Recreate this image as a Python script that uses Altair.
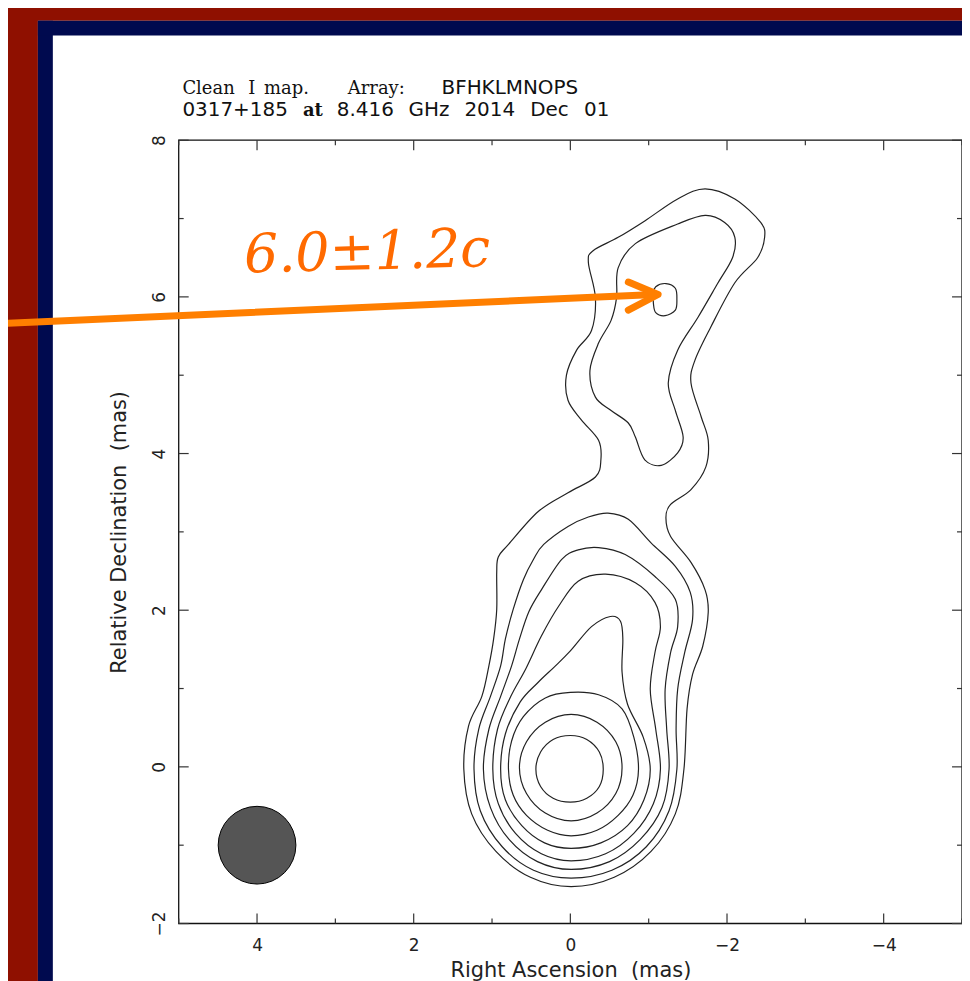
import altair as alt
import pandas as pd

# ---------------- data (mas) ----------------
XLAB = [4, 2, 0, -2, -4]
XMIN = [5, 3, 1, -1, -3, -5]
YLAB = [-2, 0, 2, 4, 6, 8]
YMIN = [-1, 1, 3, 5, 7]

# contour levels, outer -> inner (RA, Dec) in mas
L1 = [(-1.45, -0.03), (-1.34, -0.60), (-1.03, -1.08), (-0.56, -1.41), (-0.01, -1.53),
      (0.51, -1.41), (0.95, -1.08), (1.26, -0.60), (1.36, -0.03), (1.30, 0.52),
      (1.13, 0.90), (1.04, 1.29), (0.98, 1.63), (0.94, 2.01), (0.94, 2.48),
      (0.92, 2.68), (0.79, 2.84), (0.41, 3.26), (0.03, 3.50), (-0.32, 3.70),
      (-0.39, 3.92), (-0.36, 4.17), (-0.14, 4.43), (0.03, 4.68), (0.05, 5.00),
      (-0.08, 5.32), (-0.27, 5.57), (-0.32, 5.99), (-0.23, 6.44), (-0.29, 6.59),
      (-0.61, 6.76), (-0.95, 6.97), (-1.37, 7.25), (-1.72, 7.38), (-2.10, 7.25),
      (-2.43, 6.95), (-2.48, 6.76), (-2.39, 6.50), (-2.10, 6.18), (-1.79, 5.61),
      (-1.59, 5.19), (-1.54, 4.90), (-1.67, 4.47), (-1.76, 4.17), (-1.73, 3.83),
      (-1.54, 3.54), (-1.28, 3.35), (-1.22, 3.18), (-1.28, 2.94), (-1.54, 2.61),
      (-1.72, 2.26), (-1.76, 1.97), (-1.69, 1.54), (-1.56, 1.18), (-1.49, 0.74)]
L2_CORE = [(-1.36, -0.03), (-1.26, -0.56), (-0.97, -1.02), (-0.53, -1.32), (-0.01, -1.42),
           (0.47, -1.32), (0.87, -1.02), (1.15, -0.56), (1.23, -0.03), (1.17, 0.48),
           (1.02, 0.90), (0.89, 1.29), (0.83, 1.63), (0.73, 2.01), (0.60, 2.39),
           (0.47, 2.65), (0.34, 2.84), (0.03, 3.07), (-0.23, 3.19), (-0.48, 3.24),
           (-0.74, 3.16), (-1.03, 2.86), (-1.34, 2.56), (-1.53, 2.23), (-1.56, 1.88),
           (-1.46, 1.46), (-1.37, 0.99), (-1.35, 0.48)]
L2_JET = [(-0.61, 6.37), (-0.83, 6.68), (-1.37, 6.93), (-1.72, 7.04), (-1.97, 6.95),
          (-2.10, 6.76), (-2.07, 6.50), (-1.88, 6.17), (-1.63, 5.74), (-1.37, 5.32),
          (-1.25, 4.90), (-1.34, 4.55), (-1.44, 4.21), (-1.37, 4.01), (-1.16, 3.85),
          (-0.95, 3.92), (-0.83, 4.21), (-0.74, 4.39), (-0.52, 4.55), (-0.32, 4.72),
          (-0.25, 5.06), (-0.36, 5.41), (-0.52, 5.70), (-0.59, 5.99)]
L3_KNOT = [(-1.06, 6.04), (-1.09, 6.13), (-1.22, 6.17), (-1.34, 6.11), (-1.36, 5.97),
           (-1.34, 5.83), (-1.21, 5.76), (-1.09, 5.80), (-1.06, 5.92)]
L3 = [(-1.26, -0.03), (-1.17, -0.52), (-0.89, -0.93), (-0.50, -1.21), (-0.01, -1.31),
      (0.42, -1.21), (0.78, -0.93), (1.02, -0.52), (1.11, -0.03), (1.04, 0.48),
      (0.89, 0.90), (0.75, 1.29), (0.65, 1.63), (0.53, 1.98), (0.37, 2.26),
      (0.11, 2.65), (-0.10, 2.77), (-0.36, 2.80), (-0.70, 2.71), (-1.08, 2.43),
      (-1.34, 2.14), (-1.37, 1.79), (-1.28, 1.46), (-1.21, 0.99), (-1.23, 0.48)]
L4 = [(-1.15, -0.03), (-1.06, -0.47), (-0.81, -0.85), (-0.45, -1.11), (-0.01, -1.20),
      (0.37, -1.11), (0.70, -0.85), (0.92, -0.47), (0.99, -0.03), (0.93, 0.48),
      (0.76, 0.90), (0.57, 1.25), (0.37, 1.67), (0.15, 2.05), (-0.10, 2.37),
      (-0.45, 2.46), (-0.83, 2.35), (-1.08, 2.10), (-1.15, 1.79), (-1.08, 1.46),
      (-1.02, 0.99), (-1.09, 0.48)]
L5 = [(-1.02, -0.03), (-0.94, -0.42), (-0.73, -0.75), (-0.39, -0.97), (-0.01, -1.04),
      (0.33, -0.97), (0.62, -0.75), (0.83, -0.42), (0.89, -0.03), (0.83, 0.42),
      (0.64, 0.83), (0.41, 1.08), (0.20, 1.28), (0.00, 1.48), (-0.27, 1.79),
      (-0.51, 1.92), (-0.64, 1.86), (-0.67, 1.63), (-0.66, 1.21), (-0.73, 0.80),
      (-0.93, 0.38)]
L6 = [(-0.87, -0.03), (-0.80, -0.36), (-0.61, -0.62), (-0.34, -0.81), (-0.01, -0.88),
      (0.29, -0.81), (0.56, -0.62), (0.73, -0.36), (0.79, -0.03), (0.75, 0.33),
      (0.60, 0.64), (0.32, 0.88), (0.00, 0.95), (-0.36, 0.92), (-0.66, 0.74),
      (-0.81, 0.38)]
L7 = [(-0.01, 0.67), (-0.34, 0.57), (-0.58, 0.32), (-0.66, -0.01), (-0.58, -0.34),
      (-0.34, -0.59), (-0.01, -0.69), (0.32, -0.59), (0.56, -0.34), (0.65, -0.01),
      (0.56, 0.32), (0.32, 0.57)]
L8 = [(0.00, 0.40), (-0.21, 0.35), (-0.37, 0.19), (-0.42, -0.03), (-0.37, -0.25),
      (-0.21, -0.40), (0.00, -0.45), (0.22, -0.40), (0.38, -0.25), (0.44, -0.03),
      (0.38, 0.19), (0.22, 0.35)]

BEAM = {"ra": 4.0, "dec": -1.0}
ARROW_SHAFT = [(7.5, 5.65), (-1.08, 6.03)]
ARROW_HEAD = [(-0.74, 6.19), (-1.12, 6.03), (-0.74, 5.83)]
ANNOT = {"label": "6.0±1.2c", "ra": 4.16, "dec": 6.31}

TITLE1 = [("Clean", "serif"), ("I", "serif"), ("map.", "serif"),
          ("Array:", "serif"), ("BFHKLMNOPS", "sans")]
TITLE1_X = [3.7, 69.7, 85.7, 169.7, 263.7]
TITLE2 = [("0317+185", "sans"), ("at", "serifb"), ("8.416", "sans"), ("GHz", "sans"),
          ("2014", "sans"), ("Dec", "sans"), ("01", "sans")]
TITLE2_X = [3.7, 124.7, 158.7, 230.7, 286.7, 352.7, 406.7]

# ---------------- build ----------------
W = 786
H = 786
SANS = "DejaVu Sans"
SERIF = "DejaVu Serif"
INK = "#222222"

contours = {"L1": L1, "L2c": L2_CORE, "L2j": L2_JET, "L3k": L3_KNOT, "L3": L3,
            "L4": L4, "L5": L5, "L6": L6, "L7": L7, "L8": L8}
rows = []
for name, pts in contours.items():
    for i, (x, y) in enumerate(pts):
        rows.append({"c": name, "i": i, "ra": x, "dec": y})
cdf = pd.DataFrame(rows)

arows = []
for i, (x, y) in enumerate(ARROW_SHAFT):
    arows.append({"p": "shaft", "i": i, "ra": x, "dec": y})
for i, (x, y) in enumerate(ARROW_HEAD):
    arows.append({"p": "head", "i": i, "ra": x, "dec": y})
adf = pd.DataFrame(arows)

xs = alt.Scale(domain=[5, -5], nice=False, zero=False)
ys = alt.Scale(domain=[-2, 8], nice=False, zero=False)
dummy = pd.DataFrame({"a": [0]})

layers = []

# contours (carry the axes)
contour = alt.Chart(cdf).mark_line(interpolate="cardinal-closed", stroke="#222222",
                                   strokeWidth=1.2).encode(
    x=alt.X("ra:Q", scale=xs, axis=alt.Axis(
        values=XLAB, ticks=False, tickSize=0, domain=False, grid=False,
        labelFont=SANS, labelFontSize=17, labelColor=INK, labelPadding=14,
        labelBaseline="top", labelAlign="center",
        title="Right Ascension \u00a0(mas)", titleFont=SANS, titleFontSize=21,
        titleFontWeight="normal", titleColor=INK, titleX=393, titleY=53,
        titleBaseline="alphabetic", titleAlign="center")),
    y=alt.Y("dec:Q", scale=ys, axis=alt.Axis(
        values=YLAB, ticks=False, tickSize=0, domain=False, grid=False,
        labelFont=SANS, labelFontSize=17, labelColor=INK, labelPadding=14,
        labelAngle=270, labelAlign="center", labelBaseline="alphabetic",
        title="Relative Declination \u00a0(mas)", titleFont=SANS, titleFontSize=21,
        titleFontWeight="normal", titleColor=INK, titleAngle=270, titleX=-53,
        titleY=393, titleBaseline="alphabetic", titleAlign="center")),
    detail="c:N", order="i:Q")
layers.append(contour)

# page decoration (red and navy borders)
for (x1, x2, y1, y2, col) in [(-200, -141.3, -160, 900, "#8f1000"),
                              (-200, 900, -160, -120, "#8f1000"),
                              (-141.3, -126.3, -120, 900, "#000a4f"),
                              (-141.3, 900, -120, -105, "#000a4f")]:
    layers.append(alt.Chart(dummy).mark_rect(color=col).encode(
        x=alt.value(x1), x2=alt.value(x2), y=alt.value(y1), y2=alt.value(y2)))

# frame
layers.append(alt.Chart(dummy).mark_rect(filled=False, stroke="#111111", strokeWidth=1.3).encode(
    x=alt.value(0), x2=alt.value(W), y=alt.value(0), y2=alt.value(H)))

# inward ticks
for vals, ln in [(XLAB, 10), (XMIN, 5)]:
    d = pd.DataFrame({"v": vals})
    layers.append(alt.Chart(d).mark_rule(color="#333333", strokeWidth=1.2).encode(
        x=alt.X("v:Q", scale=xs, axis=None), y=alt.value(H), y2=alt.value(H - ln)))
    layers.append(alt.Chart(d).mark_rule(color="#333333", strokeWidth=1.2).encode(
        x=alt.X("v:Q", scale=xs, axis=None), y=alt.value(0), y2=alt.value(ln)))
for vals, ln in [(YLAB, 10), (YMIN, 5)]:
    d = pd.DataFrame({"v": vals})
    layers.append(alt.Chart(d).mark_rule(color="#333333", strokeWidth=1.2).encode(
        y=alt.Y("v:Q", scale=ys, axis=None), x=alt.value(0), x2=alt.value(ln)))
    layers.append(alt.Chart(d).mark_rule(color="#333333", strokeWidth=1.2).encode(
        y=alt.Y("v:Q", scale=ys, axis=None), x=alt.value(W), x2=alt.value(W - ln)))

# beam
layers.append(alt.Chart(pd.DataFrame([BEAM])).mark_point(
    shape="circle", filled=True, size=6084, fill="#555555", stroke="#000000",
    strokeWidth=1, opacity=1).encode(
    x=alt.X("ra:Q", scale=xs, axis=None), y=alt.Y("dec:Q", scale=ys, axis=None)))

# arrow
layers.append(alt.Chart(adf).mark_line(color="#ff7f00", strokeWidth=7, strokeCap="round",
                                       strokeJoin="round").encode(
    x=alt.X("ra:Q", scale=xs, axis=None), y=alt.Y("dec:Q", scale=ys, axis=None),
    detail="p:N", order="i:Q"))

# annotation
layers.append(alt.Chart(pd.DataFrame([ANNOT])).mark_text(
    font=SERIF, fontStyle="italic", fontSize=54, color="#ff6a00", align="left",
    baseline="alphabetic", angle=358.5).encode(
    x=alt.X("ra:Q", scale=xs, axis=None), y=alt.Y("dec:Q", scale=ys, axis=None),
    text="label:N"))

# header text
def tok(text, kind, x, y):
    font = SANS if kind == "sans" else SERIF
    weight = "bold" if kind == "serifb" else "normal"
    size = 20 if kind == "sans" else 18
    return alt.Chart(dummy).mark_text(font=font, fontSize=size, fontWeight=weight,
                                      color="#111111", align="left",
                                      baseline="alphabetic").encode(
        x=alt.value(x), y=alt.value(y), text=alt.value(text))

for (t, k), x in zip(TITLE1, TITLE1_X):
    layers.append(tok(t, k, x, -46.3))
for (t, k), x in zip(TITLE2, TITLE2_X):
    layers.append(tok(t, k, x, -24))

chart = alt.layer(*layers).resolve_axis(x="independent", y="independent").properties(
    width=W, height=H, background="white", autosize="none",
    padding={"left": 171.3, "top": 131, "right": 0, "bottom": 56}
).configure_view(strokeWidth=0)

chart.save("out.html", embed_options={"renderer": "svg", "actions": False})
